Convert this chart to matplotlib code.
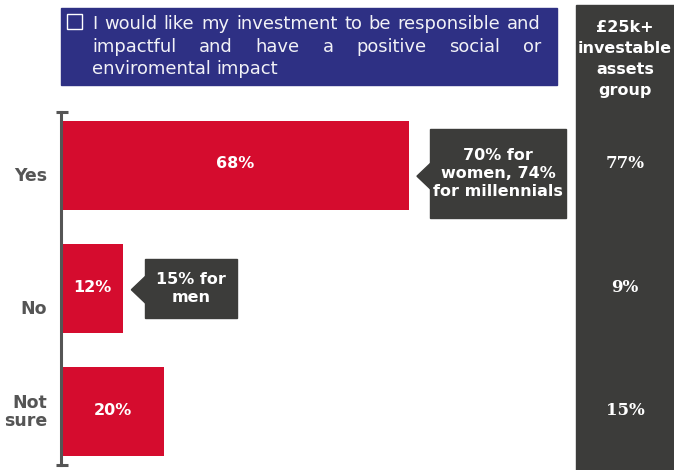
import matplotlib
matplotlib.use("Agg")
import matplotlib.pyplot as plt
from matplotlib.patches import Rectangle, Polygon
import matplotlib.transforms as mtransforms

# ---------------- data ----------------
categories = ["Yes", "No", "Not\nsure"]
values = [68, 12, 20]
value_labels = ["68%", "12%", "20%"]
group_values = ["77%", "9%", "15%"]
group_title = "£25k+\ninvestable\nassets\ngroup"
header_lines = ["I would like my investment to be responsible and",
                "impactful and have a positive social or",
                "enviromental impact"]
callout_texts = ["70% for\nwomen, 74%\nfor millennials", "15% for\nmen"]
callout_bars = [0, 1]

# ---------------- style ----------------
RED = "#d50c2e"
DARK = "#3c3c3a"
NAVY = "#2e3084"
AXGRAY = "#555555"
FONT = "DejaVu Sans"
plt.rcParams["font.family"] = [FONT]

W, H = 674, 470
fig = plt.figure(figsize=(W / 100, H / 100), dpi=100)

def fx(px):
    return px / W

def fy(py):
    return 1 - py / H

# background panels (figure level, behind everything)
fig.patches.append(Rectangle((fx(576), 0), fx(674) - fx(576), fy(5), transform=fig.transFigure,
                             color=DARK, zorder=-5))
fig.patches.append(Rectangle((fx(61), fy(85)), fx(557) - fx(61), fy(8) - fy(85),
                             transform=fig.transFigure, color=NAVY, zorder=-5))
fig.patches.append(Rectangle((fx(67), fy(29)), fx(82) - fx(67), fy(14) - fy(29),
                             transform=fig.transFigure, fill=False, edgecolor="white",
                             lw=1.0, zorder=-4))

# main axes: x 62..572 px, y 112..465 px
ax = fig.add_axes([fx(62), fy(465), fx(572) - fx(62), fy(112) - fy(465)])
ax.set_zorder(2)
ax.set_xlim(0, 100)
ax.set_ylim(2.43, -0.43)
ypos = list(range(len(categories)))
ax.barh(ypos, values, height=0.72, color=RED, left=0)
for s in ["top", "right", "bottom"]:
    ax.spines[s].set_visible(False)
ax.spines["left"].set_color(AXGRAY)
ax.spines["left"].set_linewidth(2.2)
ax.spines["left"].set_position(("outward", 1))
ax.set_xticks([])
ax.set_yticks([])
for yy in (0, 1):
    ax.plot([-0.012, 0.012], [yy, yy], transform=ax.transAxes, color=AXGRAY,
            lw=2.2, clip_on=False, solid_capstyle="butt")
ax.patch.set_alpha(0)

# category labels
label_offsets = [0.09, 0.17, 0.0]
for i, (c, off) in enumerate(zip(categories, label_offsets)):
    ax.text(-2.9, i + off, c, ha="right", va="center", fontsize=12.5,
            fontweight="bold", color=AXGRAY, linespacing=1.05)

# value labels
for i, (v, lab) in enumerate(zip(values, value_labels)):
    ax.text(v / 2, i - 0.01, lab, ha="center", va="center", fontsize=11.5,
            fontweight="bold", color="white")

# callouts
box_specs = [(26.6, -0.29, 0.43, 0.09), (18.2, -0.24, 0.24, 0.01)]
for txt, bi, (bw, y0, y1, tipy) in zip(callout_texts, callout_bars, box_specs):
    v = values[bi]
    x0 = v + 4.2
    tipx = v + 1.6
    ax.add_patch(Rectangle((x0, bi + y0), bw, y1 - y0, color=DARK, clip_on=False, zorder=3))
    ax.add_patch(Polygon([[tipx, bi + tipy], [x0 + 0.2, bi + tipy - 0.11],
                          [x0 + 0.2, bi + tipy + 0.11]], closed=True, color=DARK,
                         clip_on=False, zorder=3))
    ax.text(x0 + bw / 2, bi + (y0 + y1) / 2, txt, ha="center", va="center",
            fontsize=11.5, fontweight="bold", color="white", linespacing=1.25, zorder=4)

# right column text
fig.text(fx(625), fy(59), group_title, ha="center", va="center", fontsize=11.5,
         fontweight="bold", color="white", linespacing=1.5)
blend = mtransforms.blended_transform_factory(fig.transFigure, ax.transData)
for i, gv in enumerate(group_values):
    ax.text(fx(625), i - 0.01, gv, transform=blend, ha="center", va="center",
            fontsize=12, fontweight="bold", color="white", family="DejaVu Serif",
            clip_on=False, zorder=5)

# header text (justified)
fig.canvas.draw()
renderer = fig.canvas.get_renderer()
line_y = [24, 47, 69]
left_px, right_px = 92, 541
HFS = 12.9
for li, (line, ly) in enumerate(zip(header_lines, line_y)):
    words = line.split(" ")
    texts = [fig.text(0, fy(ly), w, ha="left", va="center", fontsize=HFS,
                      color="#f2f2f7") for w in words]
    widths = [t.get_window_extent(renderer).width for t in texts]
    justify = li < len(header_lines) - 1
    if justify and len(words) > 1:
        gap = (right_px - left_px - sum(widths)) / (len(words) - 1)
    else:
        gap = renderer.points_to_pixels(HFS) * 0.32
    x = left_px
    for t, wd in zip(texts, widths):
        t.set_x(fx(x))
        x += wd + gap

fig.savefig("out.png", dpi=100)
